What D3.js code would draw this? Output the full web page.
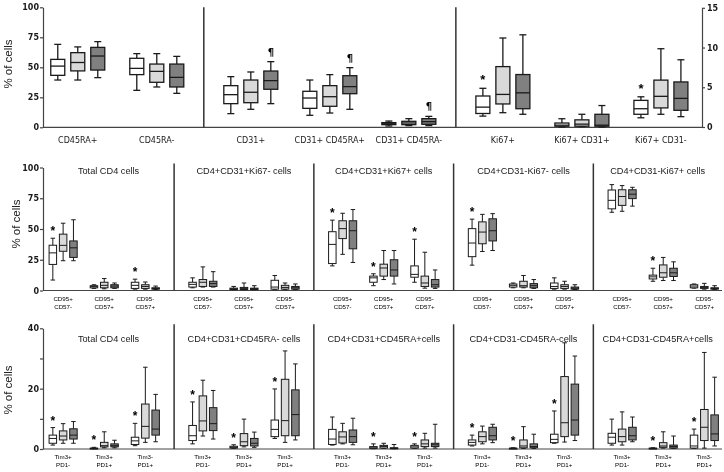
<!DOCTYPE html>
<html><head><meta charset="utf-8">
<script src="https://cdn.jsdelivr.net/npm/d3@7"></script>
<style>body{margin:0;background:#fff}svg{display:block;will-change:transform}</style>
</head><body>
<svg id="c" width="724" height="472"></svg>
<script>
// ---------------- DATA ----------------
const seriesFill = ["#ffffff", "#d9d9d9", "#808080"];

// Row 1
const topCategories = ["CD45RA+", "CD45RA-", "CD31+", "CD31+ CD45RA+", "CD31+ CD45RA-", "Ki67+", "Ki67+ CD31+", "Ki67+ CD31-"];
const topSection = [0, 0, 1, 1, 1, 2, 2, 2];
const topUsesRightAxis = [false, false, false, false, false, true, true, true];
const topLeftTicks = [0, 25, 50, 75, 100];
const topRightTicks = [0, 5, 10, 15];
// [low, q1, median, q3, high]
const topWhite = [[39.4,43.3,51,56.6,69.1],[30.8,43.9,49.1,57.5,61.4],[11.4,19.7,27.2,34.7,42.2],[10,15.8,24.4,30,39.4],[1.1,2.2,3,3.9,5.2],[1.37,1.7,2.5,3.9,4.87],[0,0.1,0.23,0.5,1.04],[1.16,1.6,2.3,3.35,3.8]];
const topLight = [[39.4,47,54,62.2,67],[33.6,37.5,46.6,52.7,61.4],[15,20.5,29.2,39.4,46.1],[11.9,17.5,25.5,34.7,43.9],[1.4,2.2,3.6,5,7.2],[1.8,2.9,4.1,7.6,11.2],[0.05,0.1,0.36,0.9,1.6],[1.6,2.4,3.86,5.9,9.85]];
const topDark = [[41.4,47.7,59.4,66.6,71.4],[28.3,33.6,41.6,52.7,59.1],[19.7,31.7,38.9,46.9,54.7],[15,28,33.9,43,49.7],[1.4,2.5,4.7,7.2,9.1],[1.6,2.3,4.3,6.6,11.6],[0,0.1,0.23,1.6,2.7],[1.3,2.1,3.6,5.67,8.46]];
const topMarks = [{cat:2,s:2,sym:"¶"},{cat:3,s:2,sym:"¶"},{cat:4,s:2,sym:"¶"},{cat:5,s:0,sym:"*"},{cat:7,s:0,sym:"*"}];

// Row 2
const midPanels = ["Total CD4 cells", "CD4+CD31+Ki67- cells", "CD4+CD31+Ki67+ cells", "CD4+CD31-Ki67- cells", "CD4+CD31-Ki67+ cells"];
const midGroups = [["CD95+","CD57-"],["CD95+","CD57+"],["CD95-","CD57+"]];
const midTicks = [0, 25, 50, 75, 100];
const midWhite = [[8.5,21.2,30.6,36.8,42.5],[1.7,2.2,3.3,3.9,4.7],[1.1,1.7,4.2,6.7,9.2],
  [2.2,2.8,5,6.7,10.3],[0.6,0.8,1.4,1.9,3.3],[0.6,1.1,2.8,8.3,12.2],
  [20,21.9,37.5,47.8,57.2],[3.9,6.7,10.3,11.7,13.6],[6.7,10.8,13.1,20,41.7],
  [20.6,27.5,38.6,50.3,58],[2.2,2.8,4.2,5.3,6.1],[1.1,1.7,3.3,6.1,10.3],
  [63.6,66.4,73.3,81.7,86.1],[7.5,9.4,11.1,12.5,18.1],[1.9,2.2,3.6,4.7,5.3]];
const midLight = [[24.2,31.9,36.7,45.8,54.7],[1.4,2.2,4.2,6.7,9.7],[1.1,1.7,3.3,4.7,6.9],
  [2.8,3.3,6.7,8.9,19.2],[0.6,0.8,1.7,2.5,6.1],[0.6,1.1,2.5,4.2,6.1],
  [29.4,42.2,50.3,56.7,62.8],[8.9,11.7,18.3,21.4,32.5],[1.9,3.3,6.1,11.7,31.1],
  [31.7,38,47.5,55.8,61.9],[2.2,2.8,3.9,7.5,12.2],[1.1,1.7,3.3,4.7,7.5],
  [64.4,69.2,76.4,81.9,85.3],[8.1,10.8,14.4,20.8,26.9],[1.1,1.7,2.5,3.3,5.8]];
const midDark = [[24.2,26.9,34.7,40.3,57.5],[1.7,2.2,3.6,4.7,6.1],[0.8,1.1,1.7,2.2,3.6],
  [2.8,3.3,5.6,7.5,15.3],[0.6,0.8,1.4,1.9,3.9],[0.8,1.1,2.2,3.3,5.3],
  [22.8,33.9,48.6,56.7,65.8],[5.3,11.7,16.7,25,32.5],[1.7,2.8,4.7,8.9,16.7],
  [32.5,40.3,48.6,58.3,62.5],[1.7,2.2,3.9,5.6,8.9],[0.8,1.1,1.9,2.8,4.7],
  [68.6,74.7,78.3,81.9,83.9],[8.1,11.4,14.4,18.1,23.3],[0.8,1.1,1.7,2.2,3.9]];
const midStars = [0, 2, 6, 7, 8, 9, 13];

// Row 3
const lowPanels = ["Total CD4 cells", "CD4+CD31+CD45RA- cells", "CD4+CD31+CD45RA+cells", "CD4+CD31-CD45RA-cells", "CD4+CD31-CD45RA+cells"];
const lowGroups = [["Tim3+","PD1-"],["Tim3+","PD1+"],["Tim3-","PD1+"]];
const lowTicks = [0, 10, 20, 30, 40];
const lowTickLabels = ["0", "", "20", "", "40"];
const lowWhite = [[1.3,1.9,3.5,4.6,7.1],[0.1,0.1,0.2,0.3,0.55],[1.1,1.5,2.7,3.9,8.5],
  [1.7,2.8,4.4,7.8,15.6],[0.2,0.3,0.55,0.9,1.4],[3.5,4.1,6.5,9.6,19.9],
  [1.3,1.5,3.3,6.5,10.6],[0.1,0.2,0.4,0.8,1.7],[0.2,0.3,0.7,1.2,1.7],
  [1.0,1.3,2.2,3.0,4.6],[0.1,0.15,0.2,0.3,0.4],[1.9,2.1,3.2,4.9,12.6],
  [1.3,1.9,3.9,5.2,9.9],[0.1,0.15,0.2,0.3,0.4],[0.2,0.3,1.0,4.6,6.6]];
const lowLight = [[1.9,3,4.3,6,8.4],[0.4,0.7,1.1,2.2,5.7],[2.2,3.6,7.5,14.9,27.1],
  [4.3,6,9.3,17.6,22.8],[0.7,1.1,2.4,5.1,9.9],[2.2,4.4,9.4,23.1,32.5],
  [1.7,2.0,4.0,5.7,8.5],[0.2,0.3,0.8,1.2,1.9],[0.3,0.8,1.7,3.0,5.2],
  [1.7,2.4,4.1,5.7,7.6],[0.2,0.4,1.0,3.0,7.4],[2.3,4.1,8.7,24.0,35.2],
  [1.3,2.4,4.1,6.6,12.3],[0.3,0.55,1.0,2.1,5.7],[0.3,2.8,7.2,13.1,32.0]];
const lowDark = [[1.9,3.3,4.6,6.7,9.1],[0.4,0.7,1.1,1.7,2.9],[2.4,4.6,6.6,12.9,18.1],
  [3.3,6.1,8.4,13.7,19.4],[0.55,1.0,1.9,3.5,5.6],[3.0,4.4,11.4,19.6,28.2],
  [1.4,2.2,4.1,6.3,10.2],[0.1,0.2,0.3,0.4,1.5],[0.3,0.8,1.4,1.9,8.2],
  [2.1,3.0,4.4,7.2,8.2],[0.2,0.4,0.8,1.7,4.9],[2.8,4.6,9.6,21.5,30.8],
  [2.4,3.0,4.4,7.2,10.6],[0.2,0.3,0.8,1.3,4.3],[1.0,2.8,5.0,11.3,23.8]];
const lowStars = [0, 1, 2, 3, 4, 5, 7, 8, 9, 10, 11, 13, 14];

// ---------------- DRAWING ----------------
const svg = d3.select("#c");
const INK = "#1a1a1a";
const AX = "#444";

function drawBox(g, cx, y, st, w, capW, fill, sw) {
  const [lo, q1, md, q3, hi] = st;
  const bg = g.append("g").attr("stroke", INK).attr("stroke-width", sw);
  bg.append("line").attr("x1", cx).attr("x2", cx).attr("y1", y(hi)).attr("y2", y(q3));
  bg.append("line").attr("x1", cx).attr("x2", cx).attr("y1", y(q1)).attr("y2", y(lo));
  bg.append("line").attr("x1", cx - capW/2).attr("x2", cx + capW/2).attr("y1", y(hi)).attr("y2", y(hi));
  bg.append("line").attr("x1", cx - capW/2).attr("x2", cx + capW/2).attr("y1", y(lo)).attr("y2", y(lo));
  bg.append("rect").attr("x", cx - w/2).attr("y", y(q3)).attr("width", w)
    .attr("height", Math.max(y(q1) - y(q3), 1)).attr("fill", fill);
  bg.append("line").attr("x1", cx - w/2).attr("x2", cx + w/2).attr("y1", y(md)).attr("y2", y(md));
}

function styleAxis(a, fs, bold, family) {
  a.select(".domain").attr("stroke", AX).attr("stroke-width", 1.2);
  a.selectAll(".tick line").attr("stroke", AX).attr("stroke-width", 1.2);
  a.selectAll(".tick text").attr("fill", INK).attr("font-size", fs)
    .attr("font-family", family).attr("font-weight", bold ? "bold" : "normal");
}

function yLabel(x, y, fs) {
  svg.append("text").attr("transform", `translate(${x},${y}) rotate(-90)`)
    .attr("text-anchor", "middle").attr("font-family", "Liberation Sans, Arial, sans-serif")
    .attr("font-size", fs).attr("fill", INK).text("% of cells");
}

// ---- Row 1 ----
(function () {
  const gap = 0.19;
  const slot = i => i + topSection[i] * gap;
  const x = d3.scaleLinear().domain([-0.44, slot(7) + 0.52]).range([43, 702]);
  const yL = d3.scaleLinear().domain([0, 100]).range([127.3, 7.3]);
  const yR = d3.scaleLinear().domain([0, 15]).range([127, 7.8]);
  const g = svg.append("g");
  g.append("line").attr("x1", x.range()[0]).attr("x2", x.range()[1]).attr("y1", yL(0)).attr("y2", yL(0))
    .attr("stroke", AX).attr("stroke-width", 1.2);
  const aL = g.append("g").attr("transform", `translate(${x.range()[0]},0)`)
    .call(d3.axisLeft(yL).tickValues(topLeftTicks).tickSize(3).tickSizeOuter(0).tickPadding(1));
  styleAxis(aL, 8, true, "DejaVu Sans, Verdana, sans-serif");
  const aR = g.append("g").attr("transform", `translate(${x.range()[1]},0)`)
    .call(d3.axisRight(yR).tickValues(topRightTicks).tickSize(3).tickSizeOuter(0).tickPadding(2));
  styleAxis(aR, 8, true, "DejaVu Sans, Verdana, sans-serif");
  [2, 5].forEach(i => {
    const xd = x((slot(i - 1) + slot(i)) / 2);
    g.append("line").attr("x1", xd).attr("x2", xd).attr("y1", yL(100)).attr("y2", yL(0))
      .attr("stroke", "#333").attr("stroke-width", 1.5);
  });
  const series = [topWhite, topLight, topDark];
  topCategories.forEach((c, i) => {
    const y = topUsesRightAxis[i] ? yR : yL;
    series.forEach((arr, s) => drawBox(g, x(slot(i)) + (s - 1) * 20, y, arr[i], 14, 7, seriesFill[s], 1.3));
    g.append("text").attr("x", x(slot(i))).attr("y", 142.5).attr("text-anchor", "middle")
      .attr("font-family", "DejaVu Sans, Verdana, sans-serif").attr("font-size", 8).attr("fill", INK).text(c);
  });
  topMarks.forEach(m => {
    const y = topUsesRightAxis[m.cat] ? yR : yL;
    const arr = [topWhite, topLight, topDark][m.s];
    const isStar = m.sym === "*";
    g.append("text").attr("x", x(slot(m.cat)) + (m.s - 1) * 20)
      .attr("y", y(arr[m.cat][4]) - (isStar ? 4 : 6)).attr("text-anchor", "middle")
      .attr("font-family", isStar ? "Liberation Sans, Arial, sans-serif" : "DejaVu Sans, sans-serif")
      .attr("font-weight", "bold")
      .attr("font-size", isStar ? 13 : 10).attr("fill", "#000").text(m.sym);
  });
  yLabel(12, 64, 11.5);
})();

// ---- Rows 2 & 3 ----
function drawRow(cfg) {
  const gap = 0.4;
  const slot = i => i + Math.floor(i / 3) * gap;
  const x = d3.scaleLinear().domain([-0.49, slot(14) + 0.43]).range([43, 722]);
  const y = d3.scaleLinear().domain(cfg.domain).range(cfg.yRange);
  const g = svg.append("g");
  g.append("line").attr("x1", x.range()[0]).attr("x2", x.range()[1]).attr("y1", y(0)).attr("y2", y(0))
    .attr("stroke", AX).attr("stroke-width", 1.2);
  const a = g.append("g").attr("transform", `translate(${x.range()[0]},0)`)
    .call(d3.axisLeft(y).tickValues(cfg.ticks).tickSize(3).tickSizeOuter(0).tickPadding(1)
      .tickFormat((d, k) => cfg.tickLabels ? cfg.tickLabels[k] : d));
  styleAxis(a, 8, true, "DejaVu Sans, Verdana, sans-serif");
  const edges = cfg.panels.map((p, k) => k === 0 ? x.range()[0] : x((slot(3 * k - 1) + slot(3 * k)) / 2));
  edges.push(x.range()[1]);
  edges.slice(1, 5).forEach(xd => {
    g.append("line").attr("x1", xd).attr("x2", xd).attr("y1", y(cfg.domain[1]) - 4).attr("y2", y(0))
      .attr("stroke", "#333").attr("stroke-width", 1.5);
  });
  cfg.panels.forEach((p, k) => {
    g.append("text").attr("x", (edges[k] + edges[k + 1]) / 2).attr("y", cfg.titleY).attr("text-anchor", "middle")
      .attr("font-family", "Liberation Sans, Arial, sans-serif").attr("font-size", 9.2).attr("fill", INK).text(p);
  });
  const series = [cfg.white, cfg.light, cfg.dark];
  d3.range(15).forEach(i => {
    series.forEach((arr, s) => drawBox(g, x(slot(i)) + (s - 1) * 10.3, y, arr[i], 7.5, 4.5, seriesFill[s], 1));
    const lab = cfg.groups[i % 3];
    lab.forEach((t, l) => {
      g.append("text").attr("x", x(slot(i))).attr("y", cfg.labelY + l * 8.2).attr("text-anchor", "middle")
        .attr("font-family", "Liberation Sans, Arial, sans-serif").attr("font-size", 6.2).attr("fill", "#000").text(t);
    });
  });
  cfg.stars.forEach(i => {
    g.append("text").attr("x", x(slot(i)) - 10.3).attr("y", y(cfg.white[i][4]) - 3)
      .attr("text-anchor", "middle").attr("font-family", "Liberation Sans, Arial, sans-serif")
      .attr("font-weight", "bold").attr("font-size", 12).attr("fill", "#000").text("*");
  });
  yLabel(cfg.ylx, cfg.yly, 11.5);
}

drawRow({domain: [0, 100], yRange: [290.5, 167.5], ticks: midTicks, panels: midPanels, groups: midGroups,
  white: midWhite, light: midLight, dark: midDark, stars: midStars, titleY: 174, labelY: 300.5, ylx: 20, yly: 224});
drawRow({domain: [0, 40], yRange: [449, 328.3], ticks: lowTicks, tickLabels: lowTickLabels, panels: lowPanels, groups: lowGroups,
  white: lowWhite, light: lowLight, dark: lowDark, stars: lowStars, titleY: 341.5, labelY: 459, ylx: 12, yly: 390});
</script>
</body></html>
